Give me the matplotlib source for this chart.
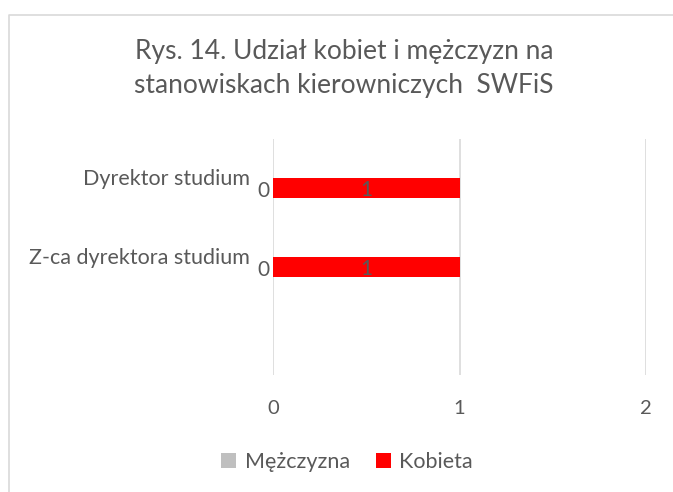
"""Rys. 14 - udzial kobiet i mezczyzn na stanowiskach kierowniczych SWFiS."""
import matplotlib

matplotlib.use("Agg")
import matplotlib.pyplot as plt  # noqa: E402
from matplotlib.lines import Line2D  # noqa: E402

# --- dane ---
STANOWISKA = ["Dyrektor studium", "Z-ca dyrektora studium"]
MEZCZYZNA = [0, 0]
KOBIETA = [1, 1]
SERIE = ["Mężczyzna", "Kobieta"]
TYTUL = "Rys. 14. Udział kobiet i mężczyzn na\nstanowiskach kierowniczych  SWFiS"

# --- styl ---
TEKST = "#595959"
SIATKA = "#D9D9D9"
SZARY = "#BFBFBF"
CZERWONY = "#FF0000"

plt.rcParams.update({"font.family": ["Lato", "DejaVu Sans"], "text.color": TEKST})

W, H = 673, 492
fig = plt.figure(figsize=(W / 100, H / 100), dpi=100)
fig.patch.set_facecolor("white")

# ramka wykresu (widoczna tylko z lewej i u gory, reszta ucieta)
fig.add_artist(
    Line2D([8.5 / W, 8.5 / W, 1.0], [0.0, 1 - 14.5 / H, 1 - 14.5 / H],
           transform=fig.transFigure, color=SIATKA, linewidth=1.2)
)

ax = fig.add_axes([273 / W, 1 - 375 / H, (646 - 273) / W, (375 - 139) / H])

pozycje = list(range(len(STANOWISKA)))
b_m = ax.barh(pozycje, MEZCZYZNA, height=0.25, color=SZARY, label=SERIE[0], zorder=2)
b_k = ax.barh(pozycje, KOBIETA, left=MEZCZYZNA, height=0.25, color=CZERWONY,
              label=SERIE[1], zorder=2)

ax.set_xlim(0, 2)
ax.set_ylim(2.37, -0.62)
ax.set_xticks([0, 1, 2])
ax.set_yticks([])
ax.tick_params(axis="x", length=0, pad=18, labelsize=14.5, labelcolor=TEKST)
for s in ax.spines.values():
    s.set_visible(False)
ax.grid(axis="x", color=SIATKA, linewidth=1.2, zorder=0)
ax.set_axisbelow(True)

# etykiety kategorii (przesuniete w gore jak w Excelu)
for y, nazwa in zip(pozycje, STANOWISKA):
    ax.annotate(nazwa, xy=(0, y), xycoords=("axes fraction", "data"),
                xytext=(-23, 9), textcoords="offset pixels",
                ha="right", va="center", fontsize=15.5, color=TEKST)

# etykiety danych
for y, v in zip(pozycje, MEZCZYZNA):
    ax.annotate(f"{v}", xy=(v, y), xytext=(-3, -3), textcoords="offset pixels",
                ha="right", va="center", fontsize=15, color=TEKST)
for y, lewy, v in zip(pozycje, MEZCZYZNA, KOBIETA):
    ax.annotate(f"{v}", xy=(lewy + v / 2, y), xytext=(0, -2),
                textcoords="offset pixels", ha="center", va="center",
                fontsize=15, color=TEKST)

fig.text(344 / W, 1 - 69 / H, TYTUL, ha="center", va="center", fontsize=19,
         color=TEKST, linespacing=1.45)

fig.legend(handles=[b_m, b_k], labels=SERIE, loc="center",
           bbox_to_anchor=(347 / W, 1 - 462 / H), ncol=2, frameon=False,
           fontsize=15.5, handlelength=0.7, handleheight=0.7, handletextpad=0.4,
           columnspacing=1.2, labelcolor=TEKST)

fig.savefig("out.png", dpi=100)
